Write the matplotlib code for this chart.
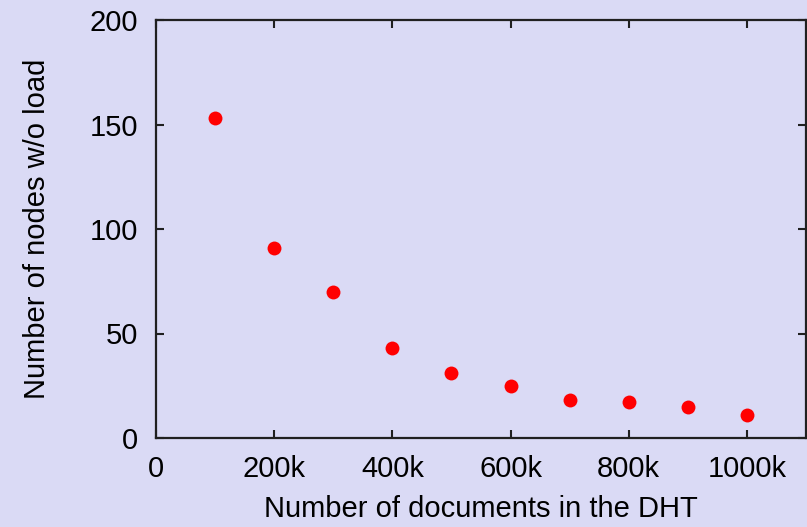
import matplotlib
matplotlib.use('Agg')
import matplotlib.pyplot as plt

# documents stored in the DHT vs nodes with no load
documents = [100000, 200000, 300000, 400000, 500000, 600000, 700000, 800000, 900000, 1000000]
idle_nodes = [153, 91, 70, 43, 31, 25, 18, 17, 15, 11]

x_ticks = [0, 200000, 400000, 600000, 800000, 1000000]
x_tick_labels = ['0', '200k', '400k', '600k', '800k', '1000k']
y_ticks = [0, 50, 100, 150, 200]

BG = '#dadaf5'

plt.rcParams['font.family'] = ['Liberation Sans', 'DejaVu Sans']

fig = plt.figure(figsize=(8.07, 5.27), dpi=100, facecolor=BG)
ax = fig.add_axes([156 / 807, 1 - 438 / 527, (806 - 156) / 807, (438 - 20) / 527])
ax.set_facecolor(BG)

ax.plot(documents, idle_nodes, linestyle='none', marker='o', markersize=10,
        color='#ff0000', markeredgewidth=0)

ax.set_xlim(0, 1100000)
ax.set_ylim(0, 200)
ax.set_xticks(x_ticks)
ax.set_xticklabels(x_tick_labels)
ax.set_yticks(y_ticks)

for s in ax.spines.values():
    s.set_linewidth(1.6)
    s.set_color('#202020')

ax.tick_params(direction='in', length=6, width=1.5, labelsize=21,
               top=True, right=True, pad=13, color='#202020')
ax.tick_params(axis='x', pad=12)

ax.set_xlabel('Number of documents in the DHT', fontsize=21, labelpad=9)
ax.set_ylabel('Number of nodes w/o load', fontsize=21, labelpad=28)

fig.savefig('out.png', dpi=100, facecolor=BG)
